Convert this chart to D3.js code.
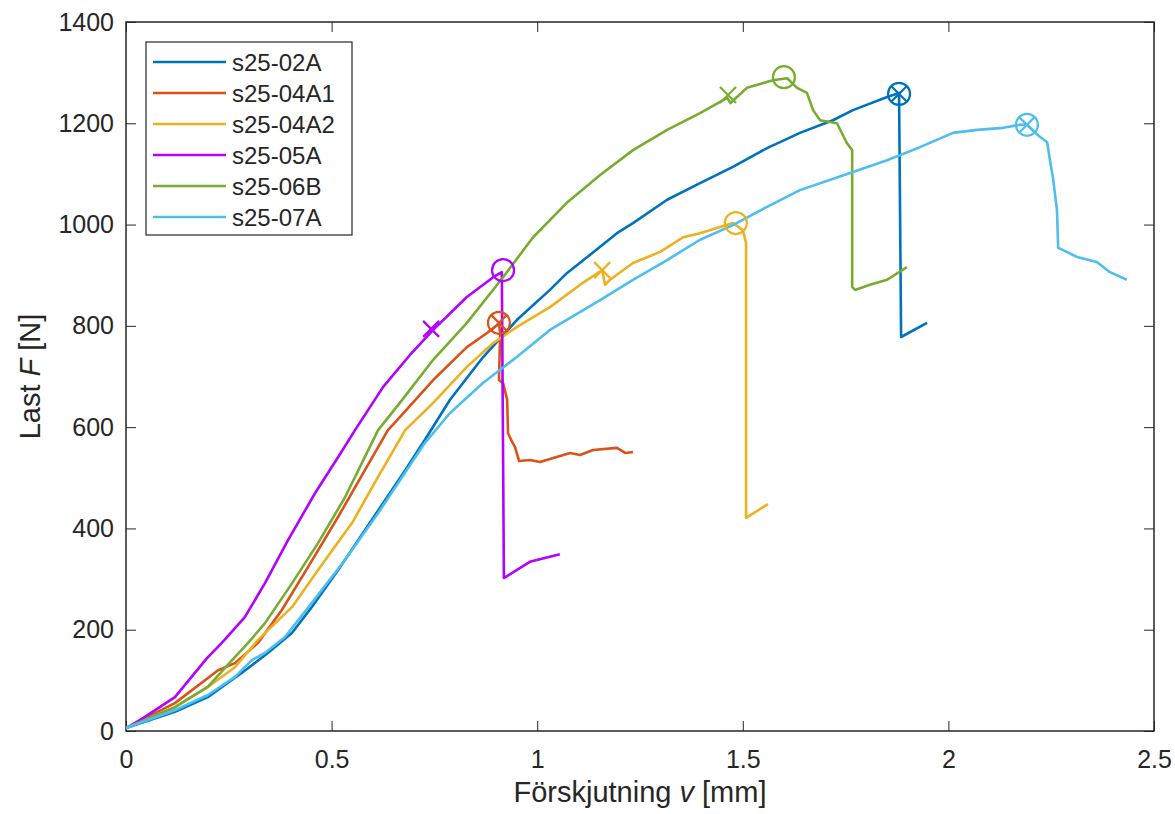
<!DOCTYPE html>
<html>
<head>
<meta charset="utf-8">
<script src="https://cdn.jsdelivr.net/npm/d3@7"></script>
<style>
  body { margin: 0; background: #fff; }
  svg { font-family: "Liberation Sans", Arial, sans-serif; }
</style>
</head>
<body>
<div id="chart"></div>
<script>
// series names and colours
var names = ["s25-02A", "s25-04A1", "s25-04A2", "s25-05A", "s25-06B", "s25-07A"];
var colors = ["#0072BD", "#D95319", "#EDB120", "#B300FF", "#77AC30", "#4DBEEE"];

// displacement v [mm] and load F [N]
var x02A = [0, 0.119, 0.199, 0.282, 0.345, 0.404, 0.452, 0.516, 0.598, 0.679, 0.727, 0.788, 0.868, 0.951, 1.031, 1.072, 1.153, 1.194, 1.233, 1.316, 1.396, 1.476, 1.559, 1.639, 1.719, 1.768, 1.851, 1.880, 1.885, 1.948];
var y02A = [6, 38, 67, 115, 154, 194, 245, 318, 417, 515, 575, 654, 738, 812, 871, 904, 956, 983, 1003, 1049, 1082, 1114, 1151, 1181, 1206, 1226, 1252, 1260, 778, 806];

var x04A1 = [0, 0.119, 0.224, 0.265, 0.321, 0.379, 0.443, 0.516, 0.581, 0.637, 0.666, 0.747, 0.829, 0.878, 0.907, 0.910, 0.907, 0.917, 0.927, 0.929, 0.939, 0.946, 0.956, 0.982, 1.007, 1.031, 1.080, 1.104, 1.136, 1.194, 1.214, 1.233];
var y04A1 = [6, 55, 120, 134, 174, 239, 324, 423, 515, 594, 620, 693, 758, 786, 804, 786, 693, 687, 654, 588, 571, 561, 533, 535, 531, 537, 549, 545, 555, 559, 549, 551];

var x04A2 = [0, 0.119, 0.199, 0.265, 0.321, 0.404, 0.467, 0.550, 0.613, 0.679, 0.747, 0.829, 0.893, 0.951, 1.031, 1.111, 1.158, 1.165, 1.177, 1.233, 1.299, 1.355, 1.396, 1.476, 1.500, 1.508, 1.508, 1.561];
var y04A2 = [6, 47, 87, 126, 180, 245, 318, 411, 502, 594, 648, 719, 766, 798, 837, 885, 910, 881, 891, 924, 946, 975, 983, 1003, 989, 964, 421, 448];

var x05A = [0, 0.046, 0.119, 0.197, 0.233, 0.289, 0.338, 0.394, 0.460, 0.516, 0.557, 0.625, 0.690, 0.747, 0.829, 0.893, 0.914, 0.919, 0.982, 1.055];
var y05A = [5, 28, 67, 144, 174, 225, 292, 377, 470, 541, 594, 679, 742, 792, 857, 896, 906, 302, 334, 349];

var x06B = [0, 0.119, 0.199, 0.258, 0.297, 0.338, 0.404, 0.467, 0.533, 0.613, 0.666, 0.747, 0.829, 0.917, 0.990, 1.072, 1.153, 1.233, 1.316, 1.396, 1.462, 1.470, 1.510, 1.573, 1.608, 1.632, 1.656, 1.671, 1.688, 1.729, 1.753, 1.766, 1.766, 1.773, 1.809, 1.851, 1.899];
var y06B = [6, 47, 87, 140, 174, 213, 292, 371, 462, 594, 648, 733, 806, 896, 975, 1043, 1098, 1147, 1187, 1220, 1250, 1240, 1270, 1285, 1289, 1270, 1260, 1226, 1206, 1200, 1161, 1147, 877, 871, 881, 891, 916];

var x07A = [0, 0.119, 0.199, 0.265, 0.306, 0.338, 0.387, 0.452, 0.533, 0.613, 0.727, 0.788, 0.868, 0.951, 1.031, 1.072, 1.153, 1.233, 1.316, 1.396, 1.476, 1.559, 1.639, 1.761, 1.851, 1.931, 2.011, 2.070, 2.133, 2.174, 2.191, 2.223, 2.240, 2.247, 2.254, 2.264, 2.267, 2.288, 2.313, 2.361, 2.393, 2.434];
var y07A = [6, 41, 71, 107, 140, 154, 186, 253, 338, 430, 569, 628, 687, 739, 792, 812, 851, 891, 930, 970, 999, 1035, 1068, 1102, 1127, 1153, 1181, 1187, 1191, 1197, 1197, 1173, 1163, 1127, 1094, 1029, 954, 946, 936, 926, 906, 891];

// max-load circles (with cross for some) and x marks
var peakX = [1.880, 0.907, 1.483, 0.917, 1.600, 2.191];
var peakY = [1258, 806, 1003, 910, 1291, 1197];
var peakCross = [true, true, false, false, false, true];
var markX = [0.742, 1.158, 1.464];
var markY = [794, 910, 1256];
var markSeries = [3, 2, 4];

var xTicks = [0, 0.5, 1, 1.5, 2, 2.5];
var yTicks = [0, 200, 400, 600, 800, 1000, 1200, 1400];

var xs = [x02A, x04A1, x04A2, x05A, x06B, x07A];
var ys = [y02A, y04A1, y04A2, y05A, y06B, y07A];

var W = 1175, H = 814;
var m = { left: 126, right: 21, top: 22, bottom: 83 };
var w = W - m.left - m.right;
var h = H - m.top - m.bottom;
var axisColor = "#262626";

var svg = d3.select("#chart").append("svg")
    .attr("width", W)
    .attr("height", H);

var g = svg.append("g")
    .attr("transform", "translate(" + m.left + "," + m.top + ")");

var xScale = d3.scaleLinear().domain([0, 2.5]).range([0, w]);
var yScale = d3.scaleLinear().domain([0, 1400]).range([h, 0]);

svg.append("defs").append("clipPath").attr("id", "clip")
    .append("rect").attr("width", w).attr("height", h);

// axes with inward ticks on all four sides
function styleAxis(sel) {
    sel.select(".domain").remove();
    sel.selectAll("line").attr("stroke", axisColor).attr("stroke-width", 1);
    sel.selectAll("text").attr("fill", axisColor).style("font-size", "25px");
}

g.append("g")
    .attr("transform", "translate(0," + h + ")")
    .call(d3.axisBottom(xScale).tickValues(xTicks).tickSize(-10).tickPadding(19)
        .tickFormat(d3.format("")))
    .call(styleAxis);

g.append("g")
    .call(d3.axisTop(xScale).tickValues(xTicks).tickSize(-10).tickFormat(""))
    .call(styleAxis);

g.append("g")
    .call(d3.axisLeft(yScale).tickValues(yTicks).tickSize(-10).tickPadding(12)
        .tickFormat(d3.format("d")))
    .call(styleAxis);

g.append("g")
    .attr("transform", "translate(" + w + ",0)")
    .call(d3.axisRight(yScale).tickValues(yTicks).tickSize(-10).tickFormat(""))
    .call(styleAxis);

g.append("rect")
    .attr("width", w)
    .attr("height", h)
    .attr("fill", "none")
    .attr("stroke", axisColor)
    .attr("stroke-width", 1.5);

// curves
var line = d3.line()
    .x(function (d) { return xScale(d[0]); })
    .y(function (d) { return yScale(d[1]); });

var plot = g.append("g").attr("clip-path", "url(#clip)");

names.forEach(function (name, i) {
    var pts = xs[i].map(function (v, j) { return [v, ys[i][j]]; });
    plot.append("path")
        .datum(pts)
        .attr("d", line)
        .attr("fill", "none")
        .attr("stroke", colors[i])
        .attr("stroke-width", 2.6)
        .attr("stroke-linejoin", "round");
});

// peak markers
var r = 11;
names.forEach(function (name, i) {
    var cx = xScale(peakX[i]), cy = yScale(peakY[i]);
    var mk = g.append("g").attr("stroke", colors[i]).attr("stroke-width", 2.2).attr("fill", "none");
    mk.append("circle").attr("cx", cx).attr("cy", cy).attr("r", r);
    if (peakCross[i]) {
        var k = r * 0.72;
        mk.append("path")
            .attr("d", "M" + (cx - k) + "," + (cy - k) + "L" + (cx + k) + "," + (cy + k) +
                "M" + (cx - k) + "," + (cy + k) + "L" + (cx + k) + "," + (cy - k));
    }
});

markX.forEach(function (v, i) {
    var cx = xScale(v), cy = yScale(markY[i]), k = 8;
    g.append("path")
        .attr("d", "M" + (cx - k) + "," + (cy - k) + "L" + (cx + k) + "," + (cy + k) +
            "M" + (cx - k) + "," + (cy + k) + "L" + (cx + k) + "," + (cy - k))
        .attr("stroke", colors[markSeries[i]])
        .attr("stroke-width", 2.2)
        .attr("fill", "none");
});

// axis labels
var xl = svg.append("text")
    .attr("x", m.left + w / 2)
    .attr("y", 802)
    .attr("text-anchor", "middle")
    .attr("fill", axisColor)
    .style("font-size", "29px");
xl.append("tspan").text("Förskjutning ");
xl.append("tspan").style("font-style", "italic").text("v");
xl.append("tspan").text(" [mm]");

var yl = svg.append("text")
    .attr("transform", "translate(40," + (m.top + h / 2) + ") rotate(-90)")
    .attr("text-anchor", "middle")
    .attr("fill", axisColor)
    .style("font-size", "29px");
yl.append("tspan").text("Last ");
yl.append("tspan").style("font-style", "italic").text("F");
yl.append("tspan").text(" [N]");

// legend
var leg = svg.append("g").attr("transform", "translate(146,42)");
leg.append("rect")
    .attr("width", 206)
    .attr("height", 193)
    .attr("fill", "#fff")
    .attr("stroke", axisColor)
    .attr("stroke-width", 1.2);

names.forEach(function (name, i) {
    var yy = 20 + i * 31;
    leg.append("line")
        .attr("x1", 7).attr("x2", 80)
        .attr("y1", yy).attr("y2", yy)
        .attr("stroke", colors[i])
        .attr("stroke-width", 2.4);
    leg.append("text")
        .attr("x", 86)
        .attr("y", yy)
        .attr("dy", "0.36em")
        .attr("fill", axisColor)
        .style("font-size", "24px")
        .text(name);
});
</script>
</body>
</html>
